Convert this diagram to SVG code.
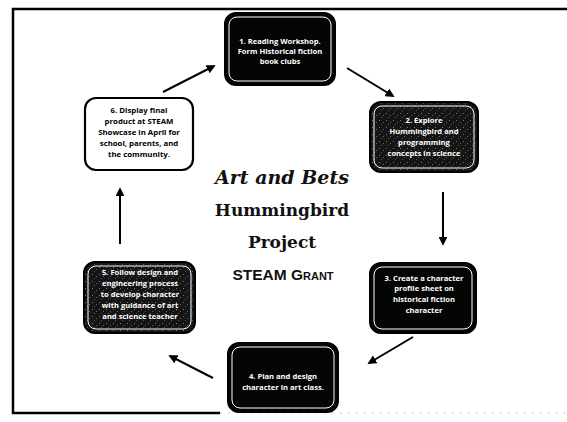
<svg xmlns="http://www.w3.org/2000/svg" width="567" height="422" viewBox="0 0 567 422">
<style>
.frame{fill:none;stroke:#000;stroke-width:2.5}
.dark{fill:#050505;stroke:#000;stroke-width:2}
.tex{fill:url(#speck);stroke:#000;stroke-width:2}
.inner{fill:none;stroke:#fff;stroke-width:1}
.light{fill:#fff;stroke:#000;stroke-width:2.2}
.wt{font-family:"Open Sans","Liberation Sans",sans-serif;font-weight:bold;font-size:7.6px;fill:#fff;text-anchor:middle}
.bt{font-family:"Open Sans","Liberation Sans",sans-serif;font-weight:bold;font-size:7.8px;fill:#000;text-anchor:middle}
.title{font-family:"DejaVu Serif","Liberation Serif",serif;font-weight:bold;font-size:17px;fill:#111;text-anchor:middle}
.title1{font-size:19px;font-style:italic}
.grant{font-family:"Liberation Sans","DejaVu Sans",sans-serif;font-weight:bold;font-size:15.5px;fill:#111;text-anchor:middle;font-variant:small-caps}
.conn{stroke:#000;stroke-width:2;fill:none;marker-end:url(#ah)}
</style>
<defs>
<marker id="ah" viewBox="0 0 10 10" refX="8" refY="5" markerWidth="4.5" markerHeight="4.5" orient="auto" markerUnits="strokeWidth">
<path d="M0,0 L10,5 L0,10 z" fill="#000"/>
</marker>
<pattern id="speck" width="7" height="7" patternUnits="userSpaceOnUse">
<rect width="7" height="7" fill="#151515"/>
<rect x="1" y="1" width="1" height="1" fill="#777"/>
<rect x="5" y="3" width="1" height="1" fill="#666"/>
<rect x="3" y="5" width="1" height="1" fill="#555"/>
</pattern>
</defs>
<rect width="567" height="422" fill="#fff"/>
<path class="frame" d="M567,9 L13,9 L13,413 L220,413"/>
<path d="M220,413 L567,413" stroke="#ccc" stroke-width="1" stroke-dasharray="2 6" fill="none"/>

<g id="connectors">
<line class="conn" x1="163" y1="92" x2="214" y2="66"/>
<line class="conn" x1="347" y1="68" x2="393" y2="96"/>
<line class="conn" x1="443" y1="192" x2="443" y2="244"/>
<line class="conn" x1="413" y1="337" x2="369" y2="363"/>
<line class="conn" x1="213" y1="378" x2="170" y2="356"/>
<line class="conn" x1="120" y1="244" x2="120" y2="189"/>
</g>

<g id="node1">
<rect class="dark" x="225" y="13" width="110" height="72" rx="11"/>
<rect class="inner" x="229" y="17" width="102" height="64" rx="8"/>
<text class="wt" x="280" y="44">1. Reading Workshop.</text>
<text class="wt" x="280" y="54">Form Historical fiction</text>
<text class="wt" x="280" y="64">book clubs</text>
</g>

<g id="node2">
<rect class="tex" x="370" y="102" width="108" height="70" rx="11"/>
<rect class="inner" x="374" y="106" width="100" height="62" rx="8"/>
<text class="wt" x="424" y="123">2. Explore</text>
<text class="wt" x="424" y="134">Hummingbird and</text>
<text class="wt" x="424" y="145">programming</text>
<text class="wt" x="424" y="156">concepts in science</text>
</g>

<g id="node3">
<rect class="dark" x="370" y="263" width="106" height="70" rx="11"/>
<rect class="inner" x="374" y="267" width="98" height="62" rx="8"/>
<text class="wt" x="424" y="281">3. Create a character</text>
<text class="wt" x="424" y="291">profile sheet on</text>
<text class="wt" x="424" y="302">historical fiction</text>
<text class="wt" x="424" y="313">character</text>
</g>

<g id="node4">
<rect class="dark" x="228" y="343" width="110" height="69" rx="11"/>
<rect class="inner" x="232" y="347" width="102" height="61" rx="8"/>
<text class="wt" x="283" y="379">4. Plan and design</text>
<text class="wt" x="283" y="390">character in art class.</text>
</g>

<g id="node5">
<rect class="tex" x="84" y="262" width="111" height="71" rx="11"/>
<rect class="inner" x="88" y="266" width="103" height="63" rx="8"/>
<text class="wt" x="140" y="275">5. Follow design and</text>
<text class="wt" x="140" y="286">engineering process</text>
<text class="wt" x="140" y="297">to develop character</text>
<text class="wt" x="140" y="308">with guidance of art</text>
<text class="wt" x="140" y="319">and science teacher</text>
</g>

<g id="node6">
<rect class="light" x="85" y="98" width="108" height="72" rx="11"/>
<text class="bt" x="139" y="113">6. Display final</text>
<text class="bt" x="139" y="124">product at STEAM</text>
<text class="bt" x="139" y="135">Showcase in April for</text>
<text class="bt" x="139" y="146">school, parents, and</text>
<text class="bt" x="139" y="157">the community.</text>
</g>

<g id="title">
<text class="title title1" x="282" y="184">Art and Bets</text>
<text class="title" x="282" y="216">Hummingbird</text>
<text class="title" x="282" y="248">Project</text>
<text class="grant" x="283" y="280">STEAM Grant</text>
</g>
</svg>
